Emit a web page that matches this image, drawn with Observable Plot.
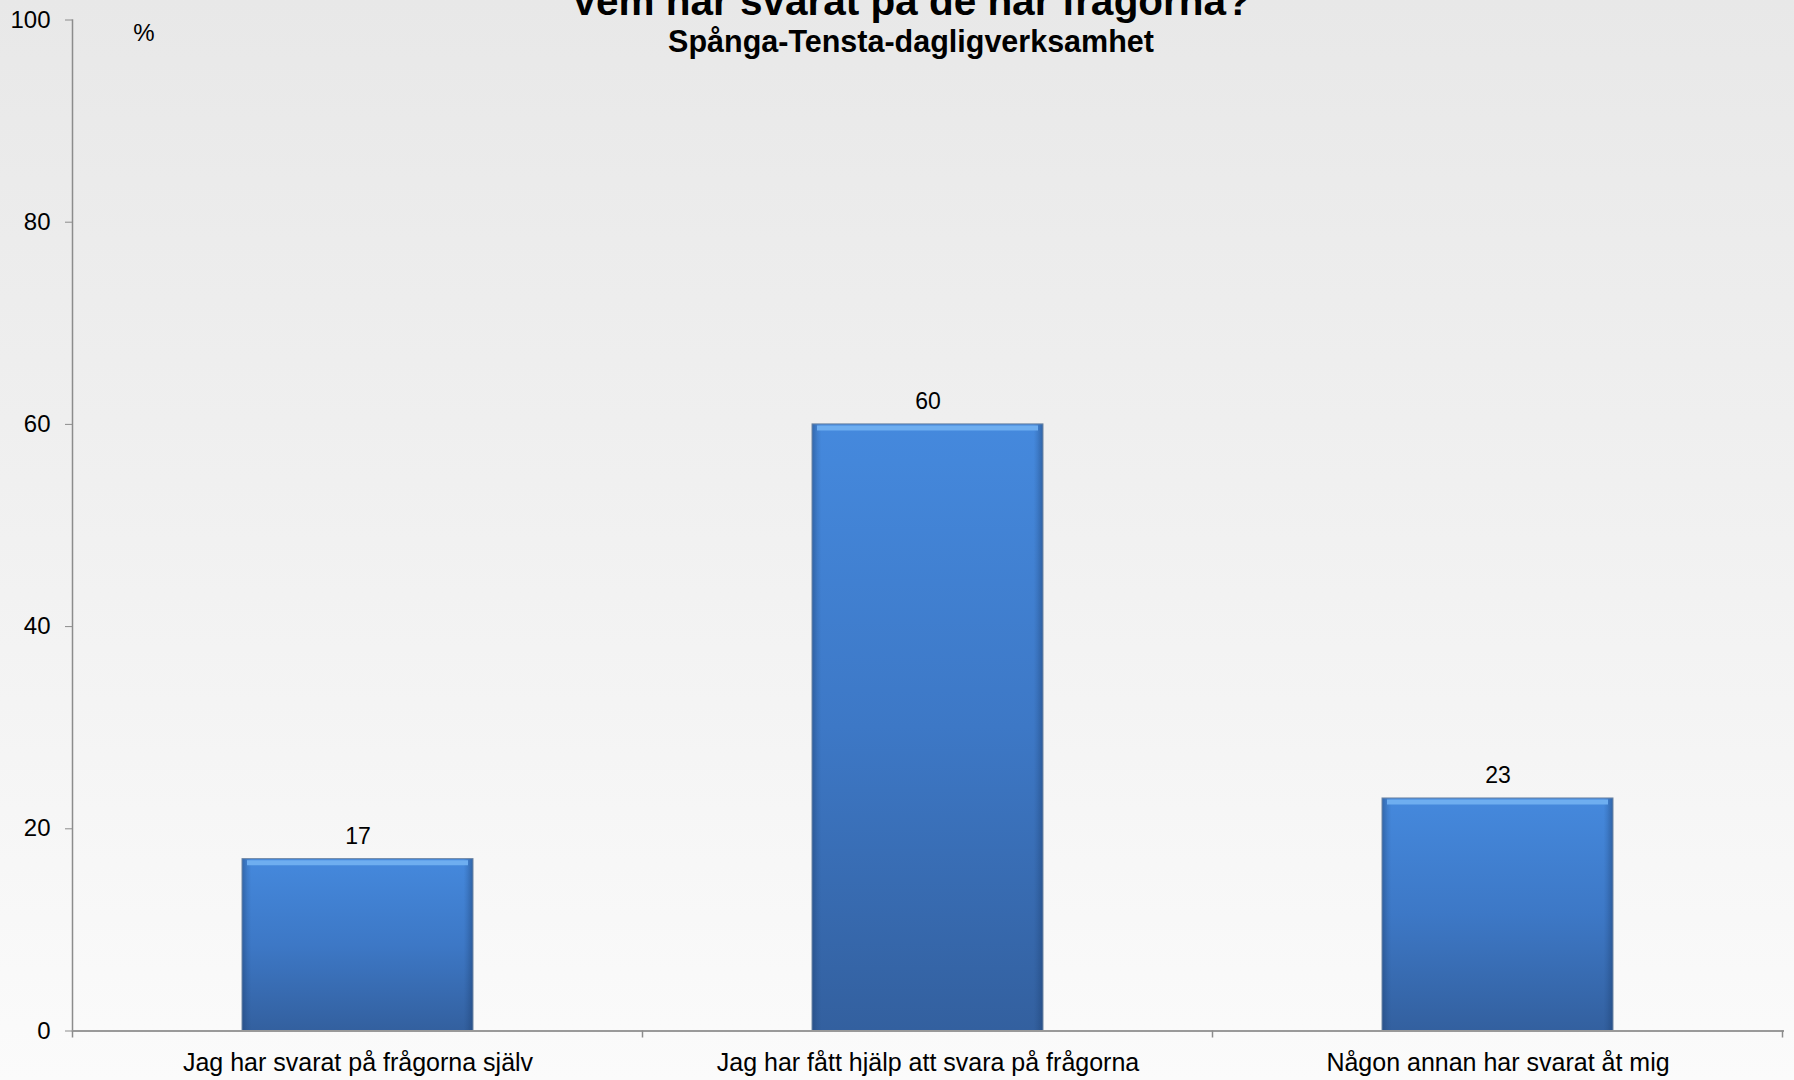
<!DOCTYPE html>
<html>
<head>
<meta charset="utf-8">
<script src="https://cdn.jsdelivr.net/npm/d3@7"></script>
<script src="https://cdn.jsdelivr.net/npm/@observablehq/plot@0.6"></script>
<style>
html, body { margin: 0; padding: 0; }
body {
  width: 1794px; height: 1080px; overflow: hidden; position: relative;
  background: linear-gradient(to bottom, #e8e8e8 0%, #f1f1f1 50%, #fbfbfb 100%);
  font-family: "Liberation Sans", Arial, sans-serif; color: #000;
}
#chart { position: absolute; left: 0; top: 0; }
.title { position: absolute; left: 911px; transform: translateX(-50%); white-space: nowrap; font-weight: bold; }
#t1 { top: -19px; font-size: 40.5px; line-height: 40px; }
#t2 { top: 25.5px; font-size: 30.5px; line-height: 30px; }
#unit { position: absolute; left: 144px; transform: translateX(-50%); top: 21px; font-size: 24px; line-height: 24px; }
</style>
</head>
<body>
<div id="chart"></div>
<div class="title" id="t1">Vem har svarat på de här frågorna?</div>
<div class="title" id="t2">Spånga-Tensta-dagligverksamhet</div>
<div id="unit">%</div>
<script>
const categories = [
  "Jag har svarat på frågorna själv",
  "Jag har fått hjälp att svara på frågorna",
  "Någon annan har svarat åt mig"
];
const values = [17, 60, 23];
const yTicks = [0, 20, 40, 60, 80, 100];

const data = categories.map((c, i) => ({category: c, value: values[i]}));

function boundaryTicks(index, scales, vals, dimensions) {
  const x = scales.x, y = scales.y;
  const bw = x.bandwidth ? x.bandwidth() : 0;
  const step = x.step ? x.step() : (x(categories[1]) - x(categories[0]));
  const gap = (step - bw) / 2;
  const pos = categories.map(c => x(c) - gap);
  pos.push(x(categories[categories.length - 1]) + bw + gap);
  const y0 = y(0);
  const g = d3.create("svg:g");
  g.selectAll("line").data(pos).join("line")
    .attr("x1", d => d).attr("x2", d => d)
    .attr("y1", y0).attr("y2", y0 + 7)
    .attr("stroke", "#8c8c8c").attr("stroke-width", 1.5);
  return g.node();
}

const chart = Plot.plot({
  width: 1794,
  height: 1080,
  marginTop: 19.5,
  marginBottom: 49.5,
  marginLeft: 72,
  marginRight: 10,
  style: {background: "transparent", fontFamily: "'Liberation Sans', Arial, sans-serif", color: "#000", overflow: "visible"},
  x: {domain: categories, paddingInner: 0.594, paddingOuter: 0.297, label: null},
  y: {domain: [0, 100], label: null},
  marks: [
    Plot.barY(data, {x: "category", y: "value", fill: "url(#barV)"}),
    Plot.barY(data, {x: "category", y: "value", fill: "url(#barH)"}),
    Plot.tickY(data, {x: "category", y: "value", stroke: "#6eaef0", strokeWidth: 5, dy: 3.5, insetLeft: 5, insetRight: 5}),
    Plot.barY(data, {x: "category", y: "value", fill: "none", stroke: "#6f86a3", strokeWidth: 1}),
    Plot.text(data, {x: "category", y: "value", text: d => String(d.value), dy: -15.5, lineAnchor: "bottom", fontSize: 23, fill: "#000"}),
    Plot.frame({anchor: "left", stroke: "#8c8c8c", strokeWidth: 1.5}),
    Plot.ruleY([0], {stroke: "#9a9a9a", strokeWidth: 2}),
    boundaryTicks,
    Plot.axisY({ticks: yTicks, tickSize: 7, tickPadding: 15, fontSize: 24, stroke: "#8c8c8c", fill: "#000", label: null}),
    Plot.axisX({tickSize: 0, tickPadding: 22, fontSize: 25, fill: "#000", label: null})
  ]
});

const defs = d3.select(chart).insert("defs", ":first-child");
const gv = defs.append("linearGradient").attr("id", "barV").attr("x1", 0).attr("y1", 0).attr("x2", 0).attr("y2", 1);
gv.append("stop").attr("offset", "0%").attr("stop-color", "#4589dd");
gv.append("stop").attr("offset", "50%").attr("stop-color", "#3d78c6");
gv.append("stop").attr("offset", "100%").attr("stop-color", "#33609f");
const gh = defs.append("linearGradient").attr("id", "barH").attr("x1", 0).attr("y1", 0).attr("x2", 1).attr("y2", 0);
gh.append("stop").attr("offset", "0%").attr("stop-color", "#1c3f70").attr("stop-opacity", 0.45);
gh.append("stop").attr("offset", "2.5%").attr("stop-color", "#1c3f70").attr("stop-opacity", 0.12);
gh.append("stop").attr("offset", "4%").attr("stop-color", "#1c3f70").attr("stop-opacity", 0);
gh.append("stop").attr("offset", "96%").attr("stop-color", "#1c3f70").attr("stop-opacity", 0);
gh.append("stop").attr("offset", "97.5%").attr("stop-color", "#1c3f70").attr("stop-opacity", 0.15);
gh.append("stop").attr("offset", "100%").attr("stop-color", "#1c3f70").attr("stop-opacity", 0.5);

document.getElementById("chart").appendChild(chart);
</script>
</body>
</html>
